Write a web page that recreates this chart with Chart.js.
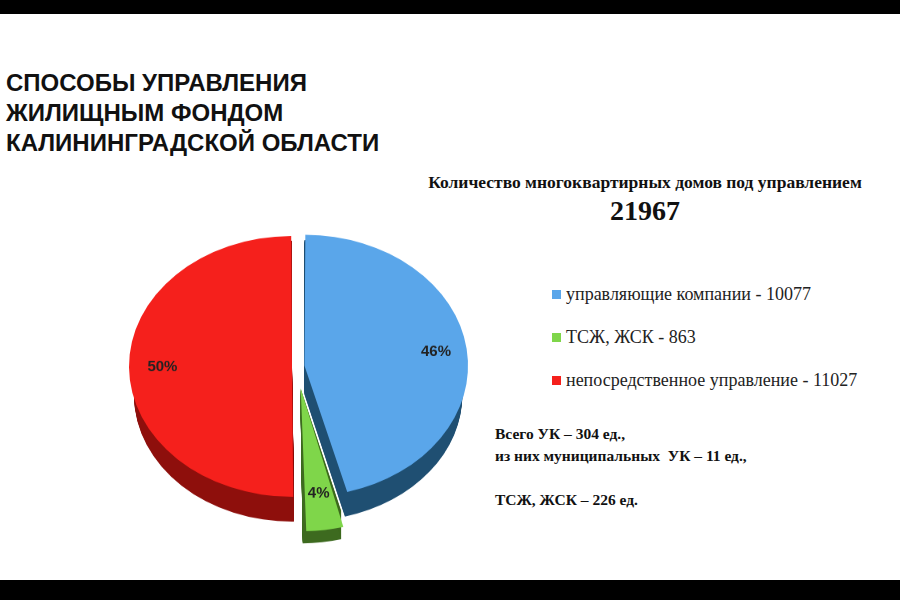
<!DOCTYPE html>
<html><head><meta charset="utf-8">
<script src="https://cdn.jsdelivr.net/npm/chart.js@4/dist/chart.umd.min.js"></script>
<style>
body{margin:0;width:900px;height:600px;background:#fff;position:relative;overflow:hidden}
.bar{position:absolute;left:0;width:900px;background:#000}
#title{position:absolute;left:6px;top:68px;font:bold 24px "Liberation Sans",Arial;line-height:30px;color:#111}
#head{position:absolute;left:400px;top:172px;width:490px;text-align:center;font:bold 17.5px "Liberation Serif";color:#111}
#total{position:absolute;left:400px;top:195px;width:490px;text-align:center;font:bold 28px "Liberation Serif";color:#111}
#legend{position:absolute;left:552px;top:284px;font:18px "Liberation Serif";color:#222}
#legend div{height:43px;display:flex;align-items:flex-start}
#legend span{display:inline-block;width:9px;height:9px;margin:6px 5px 0 0}
#notes{position:absolute;left:495px;top:423px;font:bold 15.5px "Liberation Serif";line-height:22px;color:#111}
#wrap{position:absolute;left:84px;top:196px;width:426px;height:466px;transform:scaleY(0.8);transform-origin:top left}
</style></head><body>
<div class="bar" style="top:0;height:14px"></div>
<div class="bar" style="top:580px;height:20px"></div>
<div id="title">СПОСОБЫ УПРАВЛЕНИЯ<br>ЖИЛИЩНЫМ ФОНДОМ<br>КАЛИНИНГРАДСКОЙ ОБЛАСТИ</div>
<div id="head">Количество многоквартирных домов под управлением</div>
<div id="total"></div>
<div id="legend"></div>
<div id="notes">Всего УК – 304 ед.,<br>из них муниципальных&nbsp; УК – 11 ед.,<br><br>ТСЖ, ЖСК – 226 ед.</div>
<div id="wrap"><canvas id="c"></canvas></div>
<script>
const categories = ['управляющие компании', 'ТСЖ, ЖСК', 'непосредственное управление'];
const values = [10077, 863, 11027];
const percentLabels = ['46%', '4%', '50%'];
const colors = ['#5aa6ea', '#7fd64a', '#f5201c'];
const darkColors = ['#1f4f72', '#3d6a1f', '#8e0f0c'];
const offsets = [30, 110, 20];

const total = values.reduce((a, b) => a + b, 0);
document.getElementById('total').textContent = total;
document.getElementById('legend').innerHTML = categories.map((c, i) =>
  `<div><span style="background:${colors[i]}"></span>${c} - ${values[i]}</div>`).join('');

function centre(arc, i) {
  const p = arc.getProps(['x', 'y', 'startAngle', 'endAngle', 'outerRadius']);
  const a = (p.startAngle + p.endAngle) / 2;
  const o = offsets[i] / 4;
  return { x: p.x + Math.cos(a) * o, y: p.y + Math.sin(a) * o, a, p };
}
const depth = {
  id: 'depth',
  beforeDatasetsDraw(chart) {
    const ctx = chart.ctx;
    chart.getDatasetMeta(0).data.forEach((arc, i) => {
      const c = centre(arc, i);
      ctx.save();
      ctx.fillStyle = darkColors[i];
      for (let d = 1; d <= 36; d++) {
        ctx.beginPath();
        ctx.moveTo(c.x, c.y + d);
        ctx.arc(c.x, c.y + d, c.p.outerRadius, c.p.startAngle, c.p.endAngle);
        ctx.closePath();
        ctx.fill();
      }
      ctx.restore();
    });
  }
};
const labels = {
  id: 'pctLabels',
  afterDatasetsDraw(chart) {
    const ctx = chart.ctx;
    ctx.save();
    ctx.font = 'bold 15px "Liberation Sans"';
    ctx.fillStyle = '#222';
    ctx.textAlign = 'center';
    ctx.textBaseline = 'middle';
    const pos = [0.84, 0.84, 0.82];
    chart.getDatasetMeta(0).data.forEach((arc, i) => {
      const c = centre(arc, i);
      const r = c.p.outerRadius * pos[i];
      ctx.setTransform(chart.currentDevicePixelRatio, 0, 0, chart.currentDevicePixelRatio * 1.25, 0, 0);
      const x = c.x + Math.cos(c.a) * r, y = c.y + Math.sin(c.a) * r;
      ctx.fillText(percentLabels[i], x, y / 1.25);
    });
    ctx.restore();
  }
};

new Chart(document.getElementById('c'), {
  type: 'pie',
  data: { labels: categories, datasets: [{ data: values, backgroundColor: colors, borderWidth: 0, offset: offsets }] },
  options: {
    responsive: true, maintainAspectRatio: false, animation: false,
    layout: { padding: { top: 0, bottom: 40, left: 0, right: 0 } },
    plugins: { legend: { display: false }, tooltip: { enabled: false } }
  },
  plugins: [depth, labels]
});
</script>
</body></html>
